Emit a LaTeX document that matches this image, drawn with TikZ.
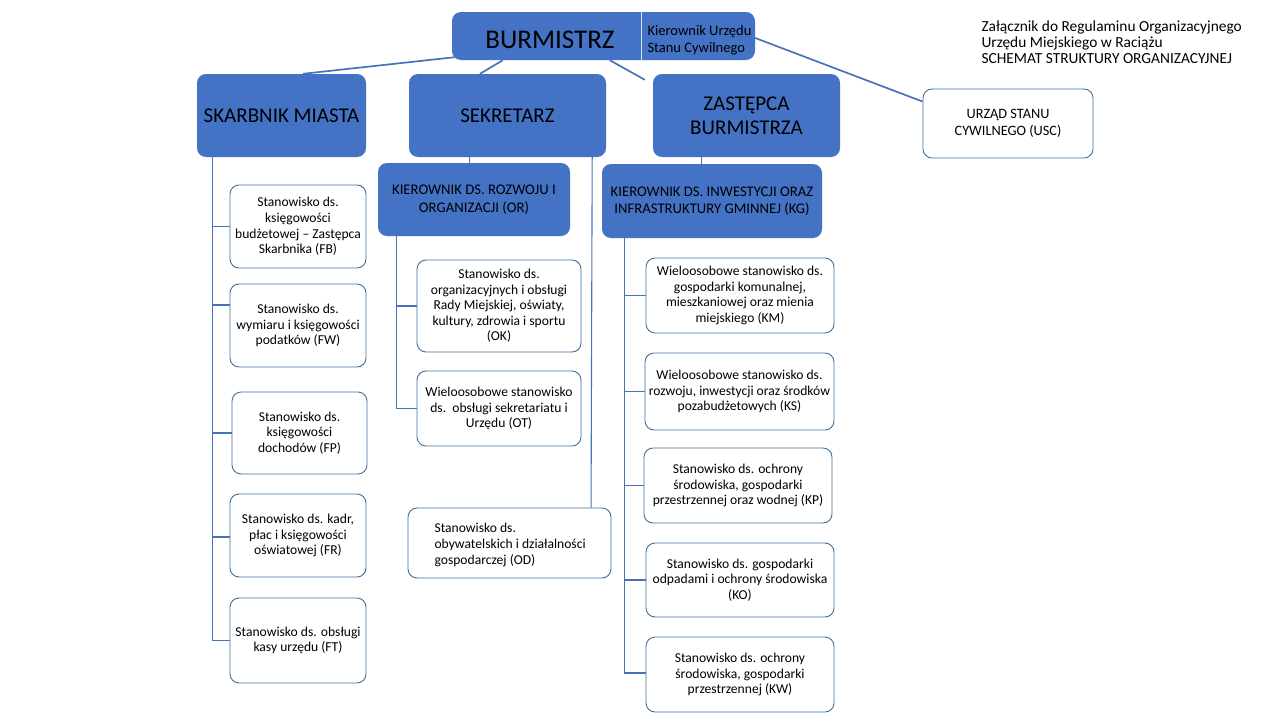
\documentclass[tikz,border=0pt]{standalone}
\usepackage{fontspec}
\setmainfont{Carlito}
\usetikzlibrary{calc}
\definecolor{myblue}{HTML}{4472C4}
\definecolor{myborder}{HTML}{41719C}
\definecolor{myline}{HTML}{4A72BC}
\tikzset{
  bluebox/.style={fill=myblue, draw=none, rounded corners=9pt, align=center, inner sep=0pt},
  wbox/.style={fill=white, draw=myborder, line width=0.9pt, rounded corners=9pt, align=center, inner sep=0pt, font=\fontsize{13.6}{15.6}\selectfont},
  conn/.style={draw=myline, line width=1.7pt},
  trunk/.style={draw=myline, line width=1.1pt},
  bigt/.style={font=\fontsize{21}{24}\selectfont},
  kiert/.style={font=\fontsize{14.7}{17.5}\selectfont},
}
\begin{document}
\begin{tikzpicture}[x=1pt,y=-1pt]
\useasboundingbox (0,0) rectangle (1280,720);
\fill[white] (0,0) rectangle (1280,720);

% top boxes
\node[bluebox, minimum width=303, minimum height=48] (bur) at (603.5,36) {};
\draw[white!80!myblue, line width=1pt] ($(bur.north west)+(190,0)$) coordinate (dv1) -- ($(bur.south west)+(190,0)$) coordinate (dv2);
\node[font=\fontsize{27}{30}\selectfont, anchor=center] (burt) at (550,40) {BURMISTRZ};
\node[font=\fontsize{14.5}{17}\selectfont, align=left, anchor=west] (kusc) at (644,40.5) {Kierownik Urzędu\\Stanu Cywilnego};

\node[bluebox, minimum width=169, minimum height=83, bigt] (sk) at (281.5,115.5) {SKARBNIK MIASTA};
\node[bluebox, minimum width=197, minimum height=83, bigt] (sek) at (507.5,115.5) {SEKRETARZ};
\node[bluebox, minimum width=187, minimum height=83, bigt] (zas) at (746.5,115.5) {ZASTĘPCA\\BURMISTRZA};
\node[wbox, minimum width=170, minimum height=69, font=\fontsize{14.3}{17}\selectfont] (usc) at (1008,123.5) {URZĄD STANU\\CYWILNEGO (USC)};

\node[bluebox, minimum width=192, minimum height=73, kiert] (or) at (474,199.5) {KIEROWNIK DS. ROZWOJU I\\ORGANIZACJI (OR)};
\node[bluebox, minimum width=220, minimum height=74, kiert] (kg) at (712,201) {KIEROWNIK DS. INWESTYCJI ORAZ\\INFRASTRUKTURY GMINNEJ (KG)};

% header text
\node[font=\fontsize{15.4}{16.2}\selectfont, align=left, anchor=north west] (hdr) at (978,17) {Załącznik do Regulaminu Organizacyjnego\\Urzędu Miejskiego w Raciążu\\SCHEMAT STRUKTURY ORGANIZACYJNEJ};

% Skarbnik column
\node[wbox, minimum width=136, minimum height=83] (fb) at (298,226.5) {Stanowisko ds.\\księgowości\\budżetowej – Zastępca\\Skarbnika (FB)};
\node[wbox, minimum width=136, minimum height=83] (fw) at (298,325.5) {Stanowisko ds.\\wymiaru i księgowości\\podatków (FW)};
\node[wbox, minimum width=135, minimum height=82] (fp) at (299.5,433) {Stanowisko ds.\\księgowości\\dochodów (FP)};
\node[wbox, minimum width=136, minimum height=83] (fr) at (298,535.5) {Stanowisko ds. kadr,\\płac i księgowości\\oświatowej (FR)};
\node[wbox, minimum width=136, minimum height=85] (ft) at (298,640.5) {Stanowisko ds. obsługi\\kasy urzędu (FT)};

% Sekretarz column
\node[wbox, minimum width=164, minimum height=92] (ok) at (499,306) {Stanowisko ds.\\organizacyjnych i obsługi\\Rady Miejskiej, oświaty,\\kultury, zdrowia i sportu\\(OK)};
\node[wbox, minimum width=164, minimum height=75] (ot) at (499,408.5) {Wieloosobowe stanowisko\\ds.\ \ obsługi sekretariatu i\\Urzędu (OT)};
\node[wbox, minimum width=203, minimum height=70] (od) at (509.5,543) {};
\node[font=\fontsize{13.6}{15.6}\selectfont, align=left, anchor=west] (odt) at (431,545) {Stanowisko ds.\\obywatelskich i działalności\\gospodarczej (OD)};

% Zastepca column
\node[wbox, minimum width=188, minimum height=75] (km) at (740,295.5) {Wieloosobowe stanowisko ds.\\gospodarki komunalnej,\\mieszkaniowej oraz mienia\\miejskiego (KM)};
\node[wbox, minimum width=189, minimum height=77] (ks) at (739.5,391.5) {Wieloosobowe stanowisko ds.\\rozwoju, inwestycji oraz środków\\pozabudżetowych (KS)};
\node[wbox, minimum width=188, minimum height=75] (kp) at (738,485.5) {Stanowisko ds. ochrony\\środowiska, gospodarki\\przestrzennej oraz wodnej (KP)};
\node[wbox, minimum width=188, minimum height=74] (ko) at (740,580) {Stanowisko ds. gospodarki\\odpadami i ochrony środowiska\\(KO)};
\node[wbox, minimum width=188, minimum height=75] (kw) at (740,674.5) {Stanowisko ds. ochrony\\środowiska, gospodarki\\przestrzennej (KW)};

% connectors from Burmistrz
\draw[conn] ($(sk.north)+(21.5,0)$) -- ($(bur.south west)+(3,-3)$);
\draw[conn] ($(sek.north)+(-27.5,0)$) -- ($(bur.south west)+(51,0)$);
\draw[conn] ($(bur.south west)+(158,0)$) -- ($(zas.north west)+(-8,6)$);
\draw[conn] ($(bur.east)+(0,2)$) -- ($(usc.north west)+(0,13)$);

% Skarbnik trunk
\coordinate (skt) at ($(sk.south west)+(16,0)$);
\draw[trunk] (skt) |- (fb.west);
\draw[trunk] (skt) |- ($(fw.west)+(0,-20.5)$);
\draw[trunk] (skt) |- (fp.west);
\draw[trunk] (skt) |- ($(fr.west)+(0,1.5)$);
\draw[trunk] (skt) |- (ft.west);

% Sekretarz
\draw[trunk] ($(sek.south west)+(61,0)$) -- ($(or.north west)+(92,0)$);
\draw[trunk] ($(sek.south east)+(-14,0)$) -- ($(od.north west)+(183.5,0)$);
\coordinate (ort) at ($(or.south west)+(19,0)$);
\draw[trunk] (ort) |- (ok.west);
\draw[trunk] (ort) |- (ot.west);

% Zastepca
\draw[trunk] ($(zas.south west)+(49,0)$) -- ($(kg.north west)+(100,0)$);
\coordinate (kgt) at ($(kg.south west)+(23,0)$);
\draw[trunk] (kgt) |- (km.west);
\draw[trunk] (kgt) |- (ks.west);
\draw[trunk] (kgt) |- (kp.west);
\draw[trunk] (kgt) |- (ko.west);
\draw[trunk] (kgt) |- ($(kw.west)+(0,-1.5)$);
\end{tikzpicture}
\end{document}
